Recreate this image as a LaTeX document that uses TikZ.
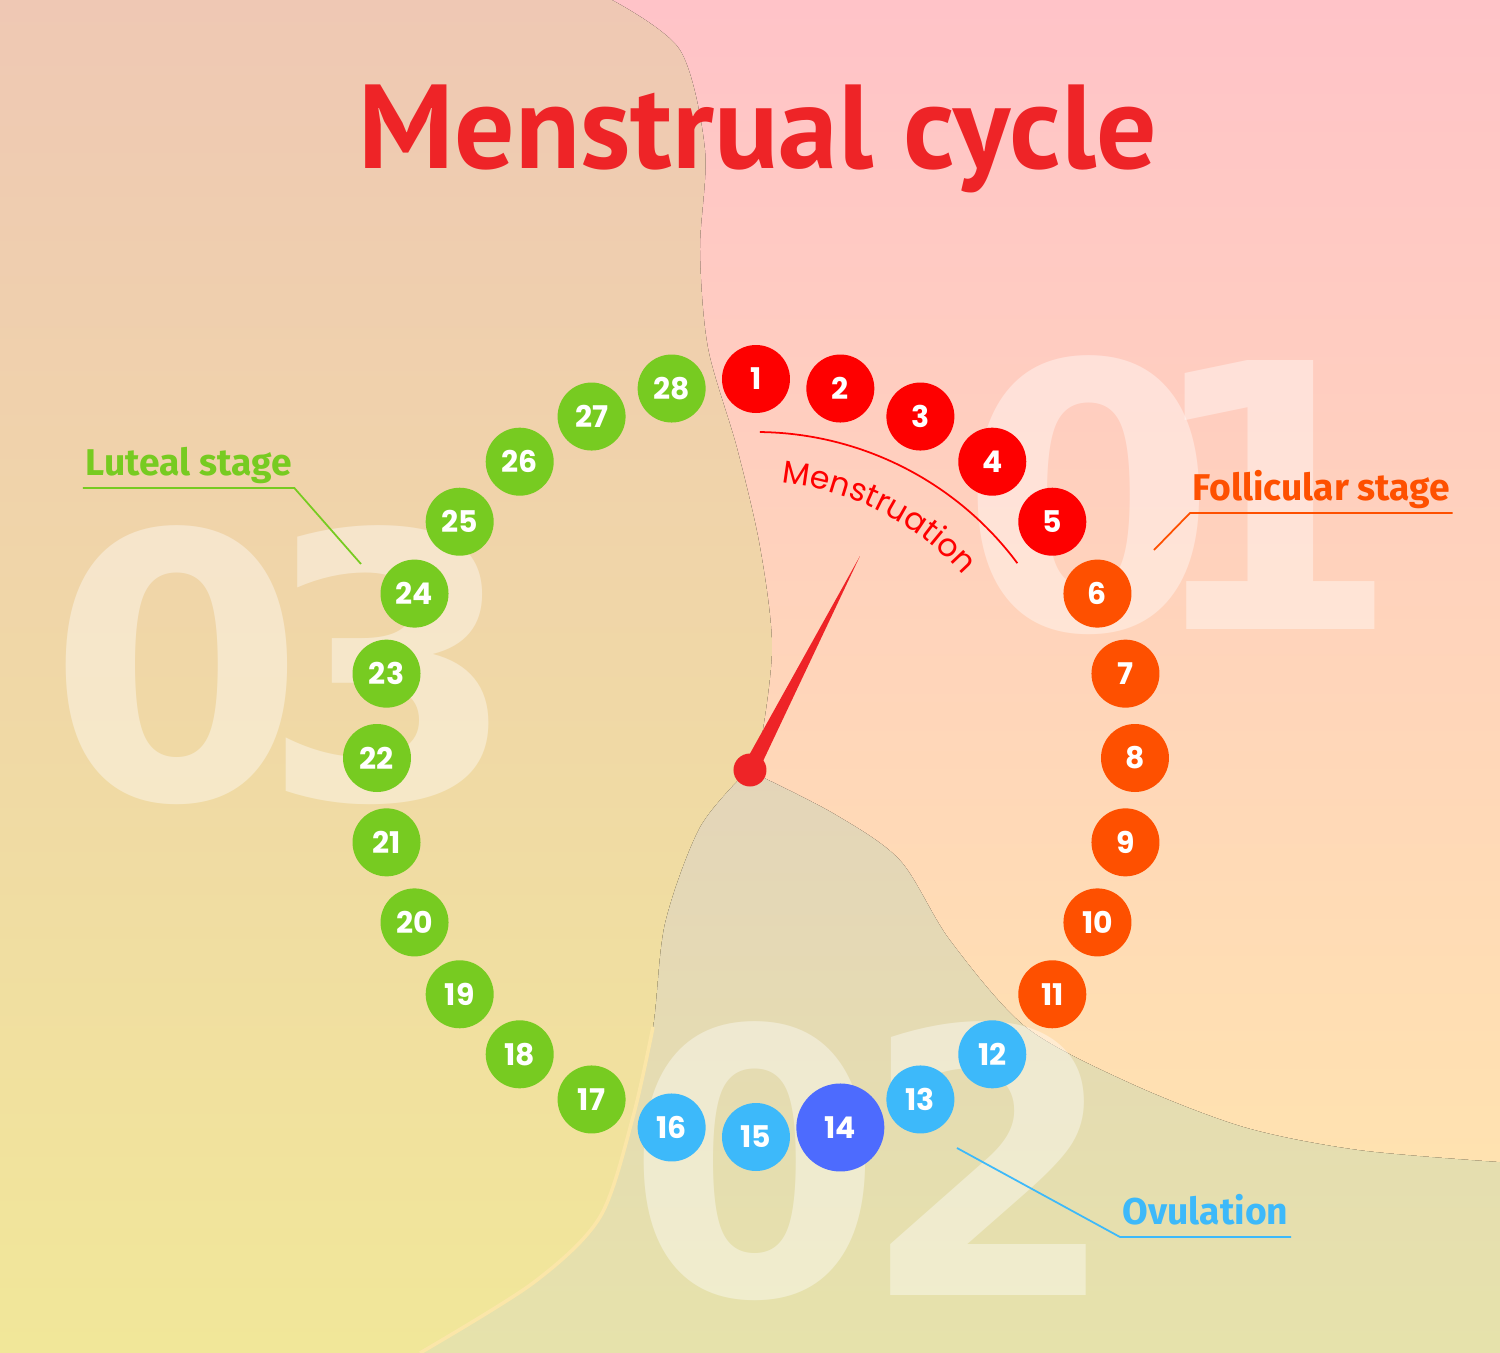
\documentclass[tikz,border=0pt]{standalone}
\usepackage{fontspec}
\usetikzlibrary{calc,decorations.text}

\newfontfamily\dayfont{Poppins}
\newfontfamily\stagefont{Fira Sans}
\newfontfamily\bignumfont{DejaVu Sans}
\newfontfamily\titlefont{PT Sans}

\definecolor{titlered}{HTML}{EE2427}
\definecolor{mensred}{HTML}{FE0000}
\definecolor{follorange}{HTML}{FE5000}
\definecolor{ovublue}{HTML}{3DB9FA}
\definecolor{ovudark}{HTML}{4D6BFE}
\definecolor{lutgreen}{HTML}{77CB21}
\definecolor{peachtop}{HTML}{EFC8B4}
\definecolor{peachbottom}{HTML}{F1E799}
\definecolor{pinktop}{HTML}{FFC3C8}
\definecolor{pinkbottom}{HTML}{FFE2B0}
\definecolor{greytop}{HTML}{E4D5B9}
\definecolor{greybottom}{HTML}{E6E2AB}
\definecolor{blobedge}{HTML}{FBE6A8}

\begin{document}
\begin{tikzpicture}
\tikzset{day/.style={circle, minimum size=0.68cm, inner sep=0pt, text=white, font=\dayfont\bfseries\fontsize{8.5pt}{8.5pt}\selectfont},
  menses/.style={day, fill=mensred},
  follicle/.style={day, fill=follorange},
  ovul/.style={day, fill=ovublue},
  lutea/.style={day, fill=lutgreen},
  stagelabel/.style={font=\stagefont\bfseries\fontsize{10.6pt}{10.6pt}\selectfont, inner xsep=0.02cm, inner ysep=0pt, text depth=0.12cm, anchor=south west},
  stageline/.style={line width=0.5pt},
  bignum/.style={font=\bignumfont\bfseries\fontsize{105pt}{105pt}\selectfont, text=white, text opacity=0.4, inner sep=0pt}}
\clip (-7.56, -5.95) rectangle (7.44, 7.58);
% background blobs
\fill[greytop] (-7.56, -5.95) rectangle (7.44, 7.58);
\fill[top color=greytop, bottom color=greybottom] (-7.56, -0.1) rectangle (7.44, -5.95);
\fill[top color=pinktop, bottom color=pinkbottom] (7.44, 7.58) -- (-7.56, 7.58) -- (-7.56, 0.5) -- (-0.3, 0.2) -- (-0.08, -0.12)
  -- plot[smooth] coordinates {(-0.08, -0.12) (0.77, -0.55) (1.44, -1.02) (1.94, -1.82) (2.70, -2.69) (3.74, -3.25) (4.88, -3.69) (6.03, -3.92) (7.44, -4.04)}
  -- cycle;
\fill[top color=peachtop, bottom color=peachbottom] (-7.56, 7.58) -- (-1.44, 7.58)
  -- plot[smooth] coordinates {(-1.44, 7.58) (-0.76, 7.08) (-0.51, 6.08) (-0.56, 5.08) (-0.48, 4.10) (-0.19, 3.10) (0.04, 2.11) (0.16, 1.11) (0.04, 0.12) (-0.08, -0.12)}
  -- plot[smooth] coordinates {(-0.08, -0.12) (-0.56, -0.69) (-0.91, -1.65) (-1.03, -2.69) (-1.23, -3.59) (-1.56, -4.59) (-2.23, -5.25) (-3.36, -5.95)}
  -- (-7.56, -5.95) -- cycle;
\draw[blobedge, line width=1pt] plot[smooth] coordinates {(-1.03, -2.69) (-1.23, -3.59) (-1.56, -4.59) (-2.23, -5.25) (-3.36, -5.95)};
% big stage numbers
\node[bignum] (N1) at (4.24, 2.63) {0\kern-0.2em 1};
\node[bignum] (N2) at (1.16, -4.03) {0\kern-0.06em 2};
\node[bignum] (N3) at (-4.73, 0.93) {0\kern-0.12em 3};
% title
\node[font=\titlefont\bfseries\fontsize{34pt}{34pt}\selectfont, text=titlered, anchor=base] (title) at (0.02, 5.90) {Menstrual cycle};
% days
\node[menses] (D1) at (90:3.79cm) {1};
\node[menses] (D2) at (77.14:3.79cm) {2};
\node[menses] (D3) at (64.29:3.79cm) {3};
\node[menses] (D4) at (51.43:3.79cm) {4};
\node[menses] (D5) at (38.57:3.79cm) {5};
\node[follicle] (D6) at (25.71:3.79cm) {6};
\node[follicle] (D7) at (12.86:3.79cm) {7};
\node[follicle] (D8) at (0:3.79cm) {8};
\node[follicle] (D9) at (-12.86:3.79cm) {9};
\node[follicle] (D10) at (-25.71:3.79cm) {10};
\node[follicle] (D11) at (-38.57:3.79cm) {11};
\node[ovul] (D12) at (-51.43:3.79cm) {12};
\node[ovul] (D13) at (-64.29:3.79cm) {13};
\node[ovul, fill=ovudark, minimum size=0.88cm] (D14) at (-77.14:3.79cm) {14};
\node[ovul] (D15) at (-90:3.79cm) {15};
\node[ovul] (D16) at (-102.86:3.79cm) {16};
\node[lutea] (D17) at (-115.71:3.79cm) {17};
\node[lutea] (D18) at (-128.57:3.79cm) {18};
\node[lutea] (D19) at (-141.43:3.79cm) {19};
\node[lutea] (D20) at (-154.29:3.79cm) {20};
\node[lutea] (D21) at (-167.14:3.79cm) {21};
\node[lutea] (D22) at (180:3.79cm) {22};
\node[lutea] (D23) at (167.14:3.79cm) {23};
\node[lutea] (D24) at (154.29:3.79cm) {24};
\node[lutea] (D25) at (141.43:3.79cm) {25};
\node[lutea] (D26) at (128.57:3.79cm) {26};
\node[lutea] (D27) at (115.71:3.79cm) {27};
\node[lutea] (D28) at (102.86:3.79cm) {28};
% menstruation arc
\draw[mensred, line width=0.5pt] (89.3:3.26cm) arc[start angle=89.3, end angle=36.7, radius=3.26cm];
\path[decorate, decoration={text along path, text align=center, text color=mensred,
  text={|\dayfont\fontsize{9pt}{9pt}\selectfont|Menstruation}}]
  (88:2.76cm) arc[start angle=88, end angle=38, radius=2.76cm];
% needle
\node[circle, fill=titlered, minimum size=0.33cm, inner sep=0pt] (pivot) at (-0.06, -0.12) {};
\coordinate (tip) at (1.04, 2.02);
\fill[titlered] ($(pivot)+(152.8:0.08)$) -- (tip) -- ($(pivot)+(-27.2:0.08)$) -- cycle;
% stage labels
\node[stagelabel, text=lutgreen] (luteal) at (-6.73, 2.70) {Luteal stage};
\coordinate (lutealend) at (-3.95, 1.94);
\draw[stageline, lutgreen] (luteal.south west) -- (luteal.south east) -- (lutealend);
\node[stagelabel, text=follorange] (follicular) at (4.34, 2.45) {Follicular stage};
\coordinate (follend) at (3.98, 2.08);
\draw[stageline, follorange] (follicular.south east) -- (follicular.south west) -- (follend);
\node[stagelabel, text=ovublue] (ovulation) at (3.64, -4.79) {Ovulation};
\coordinate (ovuend) at (2.01, -3.90);
\draw[stageline, ovublue] (ovulation.south east) -- (ovulation.south west) -- (ovuend);
\end{tikzpicture}
\end{document}
